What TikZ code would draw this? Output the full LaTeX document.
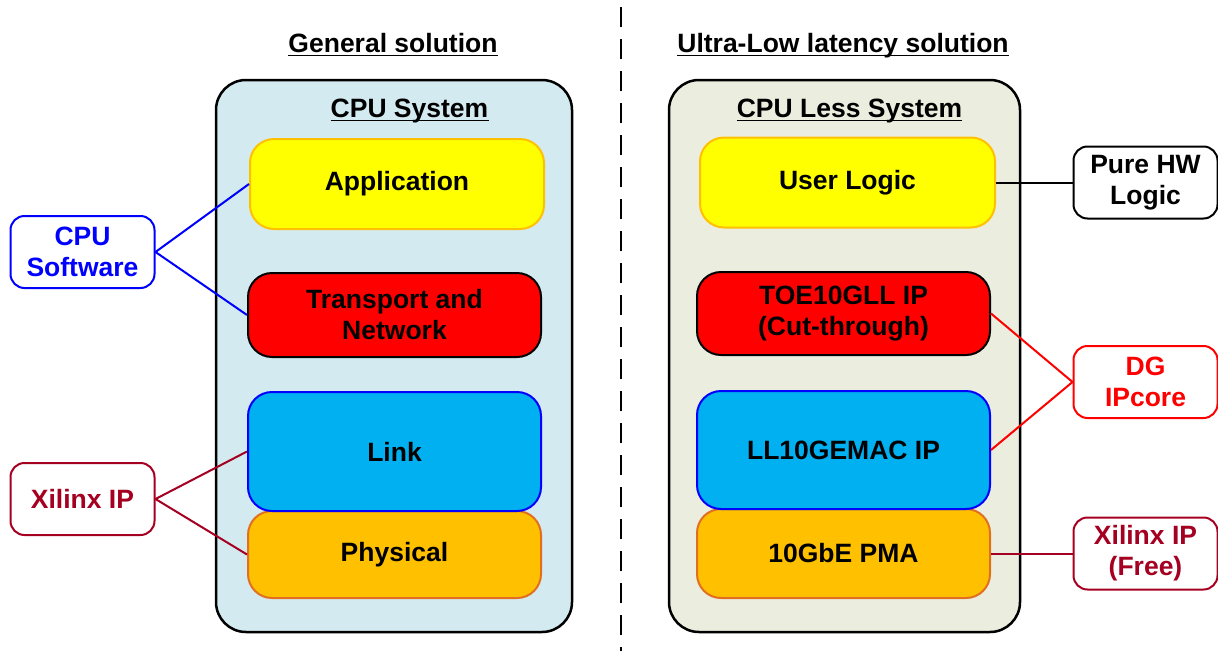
\documentclass[tikz,border=0pt]{standalone}
\usepackage{fontspec}
\setmainfont{Liberation Sans}
\definecolor{cpubg}{HTML}{D3EAF0}
\definecolor{lessbg}{HTML}{EBEEDF}
\definecolor{yel}{HTML}{FFFF00}
\definecolor{yelborder}{HTML}{FFC000}
\definecolor{redfill}{HTML}{FF0000}
\definecolor{bluefill}{HTML}{00B0F0}
\definecolor{blueborder}{HTML}{0000FF}
\definecolor{orfill}{HTML}{FFC000}
\definecolor{orborder}{HTML}{E07020}
\definecolor{crimson}{HTML}{A50021}
\definecolor{cpublue}{HTML}{0000FF}
\definecolor{dgred}{HTML}{FF0000}
\begin{document}
\begin{tikzpicture}[x=1pt,y=-1pt,
  every node/.style={font=\fontsize{26.5}{31}\selectfont\bfseries, align=center},
  container/.style={draw=black, line width=2.5pt, rounded corners=30pt, inner sep=0pt},
  layer/.style={line width=2pt, rounded corners=24pt, minimum width=293pt, inner sep=0pt},
  side/.style={draw, fill=white, line width=2pt, rounded corners=14pt, minimum width=144pt, minimum height=72pt, inner sep=0pt},
  conn/.style={line width=2pt},
  ttl/.style={inner sep=0pt, anchor=base},
  uline/.style={line width=1.8pt}
]
\useasboundingbox (0,0) rectangle (1218,651);
% divider
\coordinate (dtop) at (621,7);
\coordinate (dbot) at (621,651);
\draw[line width=2.2pt, dash pattern=on 20pt off 12pt] (dtop) -- (dbot);

% containers
\node[container, fill=cpubg, minimum width=356pt, minimum height=552pt] (lc) at (394,356) {};
\node[container, fill=lessbg, minimum width=351pt, minimum height=552pt] (rc) at (844.5,356) {};

% titles
\node[ttl] (t1) at (393,52) {General solution};
\node[ttl] (t2) at (843,52) {Ultra-Low latency solution};
\node[ttl] (t3) at (409.5,117) {CPU System};
\node[ttl] (t4) at (849.5,117) {CPU Less System};
\foreach \t in {t1,t2,t3,t4}
  \draw[uline] ([yshift=-3.5pt]\t.base west) -- ([yshift=-3.5pt]\t.base east);

% left layers
\node[layer, draw=yelborder, fill=yel, minimum width=294pt, minimum height=90pt] (app) at (397,184) {Application};
\node[layer, draw=black, fill=redfill, minimum height=84pt] (tn) at (394.5,315) {Transport and\\Network};
\node[layer, draw=orborder, fill=orfill, minimum height=87pt] (phy) at (394.5,554.5) {Physical};
\node[layer, draw=blueborder, fill=bluefill, minimum height=119pt] (link) at (394.5,451.5) {Link};

% right layers
\node[layer, draw=yelborder, fill=yel, minimum width=295pt, minimum height=90pt] (ul) at (847.5,182.5) {User Logic};
\node[layer, draw=black, fill=redfill, minimum height=83pt] (toe) at (843.5,313.5) {TOE10GLL IP\\(Cut-through)};
\node[layer, draw=orborder, fill=orfill, minimum height=89pt] (pma) at (843.5,553.5) {10GbE PMA};
\node[layer, draw=blueborder, fill=bluefill, minimum height=118pt] (mac) at (843.5,450) {LL10GEMAC IP};

% side labels
\node[side, draw=cpublue, text=cpublue] (cpus) at (82.5,252) {CPU\\Software};
\node[side, draw=crimson, text=crimson] (xil) at (82.5,499) {Xilinx IP};
\node[side, draw=black, text=black] (hw) at (1145.5,182.5) {Pure HW\\Logic};
\node[side, draw=dgred, text=dgred] (dg) at (1145.5,382) {DG\\IPcore};
\node[side, draw=crimson, text=crimson] (xfree) at (1145.5,553.5) {Xilinx IP\\(Free)};

% connectors
\draw[conn, cpublue] (cpus.east) -- (app.west);
\draw[conn, cpublue] (cpus.east) -- (tn.west);
\draw[conn, crimson] (xil.east) -- (link.west);
\draw[conn, crimson] (xil.east) -- (phy.west);
\draw[conn, black] (ul.east) -- (hw.west);
\draw[conn, dgred] (toe.east) -- (dg.west);
\draw[conn, dgred] (mac.east) -- (dg.west);
\draw[conn, crimson] (pma.east) -- (xfree.west);
\end{tikzpicture}
\end{document}
